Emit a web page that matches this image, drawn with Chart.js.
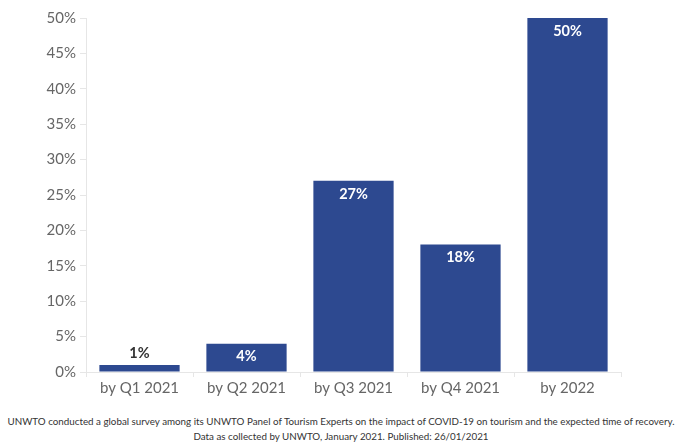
<!DOCTYPE html>
<html>
<head>
<meta charset="utf-8">
<script src="https://cdn.jsdelivr.net/npm/chart.js@4"></script>
<style>
  body { margin: 0; background: #fff; }
  #wrap { width: 692px; height: 400px; position: relative; }
  #note {
    width: 682px;
    text-align: center;
    white-space: nowrap;
    font-family: Lato, "Noto Sans", sans-serif;
    font-size: 9.8px;
    line-height: 15px;
    color: #333;
    margin-top: 14px;
  }
</style>
</head>
<body>
<div id="wrap"><canvas id="recoveryChart"></canvas></div>
<div id="note">
  UNWTO conducted a global survey among its UNWTO Panel of Tourism Experts on the impact of COVID-19 on tourism and the expected time of recovery.<br>
  Data as collected by UNWTO, January 2021. Published: 26/01/2021
</div>
<script>
const categories = ['by Q1 2021', 'by Q2 2021', 'by Q3 2021', 'by Q4 2021', 'by 2022'];
const shares = [1, 4, 27, 18, 50];
const yTicks = [0, 5, 10, 15, 20, 25, 30, 35, 40, 45, 50];

const barColor = '#2d4990';
const axisColor = '#e6e6e6';
const fontFamily = 'Lato, "Noto Sans", sans-serif';

// etiquetas de valor sobre o dentro de cada barra
const valueLabels = {
    id: 'valueLabels',
    afterDatasetsDraw(chart) {
        const ctx = chart.ctx;
        const meta = chart.getDatasetMeta(0);
        ctx.save();
        ctx.font = 'bold 14.5px ' + fontFamily;
        ctx.textAlign = 'center';
        ctx.textBaseline = 'middle';
        meta.data.forEach((bar, i) => {
            const v = shares[i];
            if (v >= 3) {
                ctx.fillStyle = '#ffffff';
                ctx.fillText(v + '%', bar.x, bar.y + 13);
            } else {
                ctx.fillStyle = '#333333';
                ctx.fillText(v + '%', bar.x, bar.y - 12);
            }
        });
        ctx.restore();
    }
};

const ctx = document.getElementById('recoveryChart').getContext('2d');
new Chart(ctx, {
    type: 'bar',
    data: {
        labels: categories,
        datasets: [{
            data: shares,
            backgroundColor: barColor,
            borderWidth: 0,
            barPercentage: 0.75,
            categoryPercentage: 1
        }]
    },
    options: {
        responsive: true,
        maintainAspectRatio: false,
        animation: false,
        layout: { padding: { top: 18, right: 71, left: 0, bottom: 0 } },
        plugins: {
            legend: { display: false },
            tooltip: { enabled: false }
        },
        scales: {
            x: {
                grid: { drawOnChartArea: false, color: axisColor, tickLength: 5 },
                border: { color: axisColor },
                ticks: { color: '#666', font: { family: fontFamily, size: 15 }, padding: 2 },
                afterFit(scale) { scale.height = 28; }
            },
            y: {
                min: 0,
                max: 50,
                afterBuildTicks(scale) { scale.ticks = yTicks.map(v => ({ value: v })); },
                grid: { drawOnChartArea: false, color: axisColor, tickLength: 6 },
                border: { color: axisColor },
                ticks: {
                    color: '#666',
                    font: { family: fontFamily, size: 15 },
                    padding: 4,
                    callback: v => v + '%'
                },
                afterFit(scale) { scale.width = 86; }
            }
        }
    },
    plugins: [valueLabels]
});
</script>
</body>
</html>
